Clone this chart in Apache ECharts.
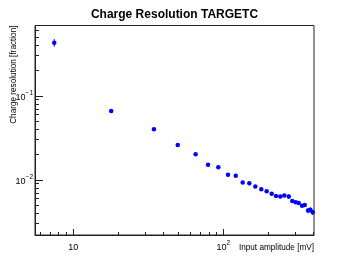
<!DOCTYPE html>
<html>
<head>
<meta charset="utf-8">
<script src="https://cdn.jsdelivr.net/npm/echarts@6/dist/echarts.min.js"></script>
<style>html,body{margin:0;padding:0;background:#fff}#c{width:349px;height:262px}</style>
</head>
<body>
<div id="c"></div>
<script>
// Input amplitude [mV]
var amplitude = [7.47, 17.9, 34.5, 49.7, 65.4, 79.1, 92.6, 107.4, 121, 134.6, 149, 163.4, 179, 194.4, 210, 224.5, 239.8, 255, 273, 288, 303.6, 317.7, 334.7, 349, 367, 380, 394];
// Charge resolution [fraction]
var resolution = [0.428, 0.0658, 0.0398, 0.0259, 0.0201, 0.0151, 0.0141, 0.0115, 0.0112, 0.0093, 0.0091, 0.0083, 0.0077, 0.0073, 0.0068, 0.0064, 0.0063, 0.0065, 0.0063, 0.0056, 0.0054, 0.0053, 0.0049, 0.0050, 0.0043, 0.0044, 0.0041];
var resolutionErr = [0.045, 0.0017, 0.0016, 0.0010, 0.0006, 0.0003, 0.0003, 0.0005, 0.0005, 0.0002, 0.0005, 0.0002, 0.0003, 0.0002, 0.0002, 0.0003, 0.0002, 0.0003, 0.0004, 0.0001, 0.0002, 0.0001, 0.0001, 0.0002, 0.0003, 0.0003, 0.0003];
// axis ranges
var xRange = [5.56, 402];
var yRange = [0.00220, 0.686];
// tick values
var xMajor = [10, 100];
var xMinor = [6, 7, 8, 9, 20, 30, 40, 50, 60, 70, 80, 90, 200, 300, 400];
var yMajor = [0.01, 0.1];
var yMinor = [0.003, 0.004, 0.005, 0.006, 0.007, 0.008, 0.009, 0.02, 0.03, 0.04, 0.05, 0.06, 0.07, 0.08, 0.09, 0.2, 0.3, 0.4, 0.5, 0.6];
var titleText = 'Charge Resolution TARGETC';
var xTitle = 'Input amplitude [mV]';
var yTitle = 'Charge resolution [fraction]';

var L = Math.log10;
var pts = amplitude.map(function (a, i) { return [L(a), L(resolution[i])]; });
var errs = amplitude.map(function (a, i) {
  return [L(a), L(resolution[i] - resolutionErr[i]), L(resolution[i] + resolutionErr[i])];
});
function powLabel(v) {
  var e = Math.round(v);
  if (e === 1) return '{b|10}';
  var s = String(e).replace('-', '\u2212');
  return '{b|10}{s|' + s + '}';
}
var rich = {
  b: { fontSize: 9, fontFamily: 'Liberation Sans', color: '#000', lineHeight: 12, verticalAlign: 'bottom' },
  s: { fontSize: 6.5, fontFamily: 'Liberation Sans', color: '#000', lineHeight: 7, verticalAlign: 'top' }
};
var grid = { left: 35, right: 35, top: 25.5, bottom: 27, show: true, borderColor: '#222', borderWidth: 1, backgroundColor: 'transparent' };

function xAxisDef(vals, len, labels) {
  return {
    type: 'value', min: L(xRange[0]), max: L(xRange[1]), position: 'bottom',
    axisLine: { show: labels, lineStyle: { color: '#222', width: 1 } },
    splitLine: { show: false },
    axisTick: { show: true, inside: true, length: len, customValues: vals.map(L), lineStyle: { color: '#222', width: 1 } },
    axisLabel: labels ? { show: true, customValues: vals.map(L), margin: 5, formatter: function (v) { return powLabel(v); }, rich: rich } : { show: false }
  };
}
function yAxisDef(vals, len, labels) {
  return {
    type: 'value', min: L(yRange[0]), max: L(yRange[1]), position: 'left',
    axisLine: { show: labels, lineStyle: { color: '#222', width: 1 } },
    splitLine: { show: false },
    axisTick: { show: true, inside: true, length: len, customValues: vals.map(L), lineStyle: { color: '#222', width: 1 } },
    axisLabel: labels ? { show: true, customValues: vals.map(L), margin: 2, formatter: function (v) { return powLabel(v); }, rich: rich } : { show: false }
  };
}

var chart = echarts.init(document.getElementById('c'), null, { renderer: 'canvas' });
chart.setOption({
  animation: false,
  backgroundColor: '#fff',
  title: { text: titleText, left: 'center', top: 4, textStyle: { fontFamily: 'Liberation Sans', fontWeight: 'bold', fontSize: 12, color: '#000' } },
  grid: grid,
  xAxis: [xAxisDef(xMajor, 6, true), xAxisDef(xMinor, 3, false)],
  yAxis: [yAxisDef(yMajor, 8, true), yAxisDef(yMinor, 4, false)],
  graphic: [
    { type: 'text', right: 35, top: 244, style: { text: xTitle, fontFamily: 'Liberation Sans', fontSize: 8.2, fill: '#000' } },
    { type: 'text', x: 10, y: 25.5, rotation: Math.PI / 2, style: { text: yTitle, fontFamily: 'Liberation Sans', fontSize: 8.2, fill: '#000', align: 'right', verticalAlign: 'top' } }
  ],
  series: [
    {
      type: 'custom', xAxisIndex: 0, yAxisIndex: 0, clip: true,
      renderItem: function (params, api) {
        var p1 = api.coord([api.value(0), api.value(1)]);
        var p2 = api.coord([api.value(0), api.value(2)]);
        return { type: 'line', shape: { x1: p1[0], y1: p1[1], x2: p2[0], y2: p2[1] }, style: { stroke: '#0000ff', lineWidth: 1 } };
      },
      data: errs, z: 3
    },
    {
      type: 'scatter', xAxisIndex: 0, yAxisIndex: 0, symbol: 'circle', symbolSize: 4.5,
      itemStyle: { color: '#0000ff', opacity: 1 }, data: pts, z: 4
    }
  ]
});
</script>
</body>
</html>
